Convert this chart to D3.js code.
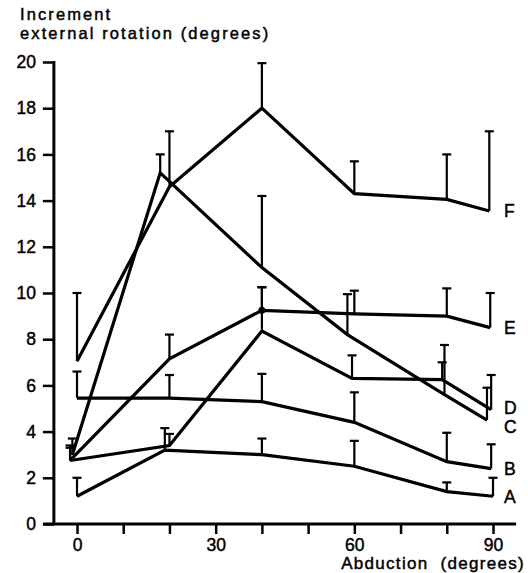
<!DOCTYPE html>
<html>
<head>
<meta charset="utf-8">
<script src="https://cdn.jsdelivr.net/npm/d3@7"></script>
<style>
  body { margin: 0; background: #fff; }
  svg { display: block; font-family: 'Liberation Sans', Arial, sans-serif; }
  svg text { stroke: #000; stroke-width: 0.45; fill: #000; }
  .line { fill: none; stroke: #000; stroke-width: 3.2; stroke-linejoin: miter; }
  .err { stroke: #000; stroke-width: 2.2; }
</style>
</head>
<body>
<svg id="chart" width="528" height="573"></svg>
<script>
// abduction angle (deg), mean increment, top of error bar
const angleA = [0, 19, 40, 60, 80, 90]
const meanA = [1.2, 3.2, 3.0, 2.5, 1.4, 1.2]
const upperA = [2.0, 4.15, 3.7, 3.6, 1.8, 2.0]

const angleB = [0, 20, 40, 60, 80, 89.6]
const meanB = [5.45, 5.45, 5.3, 4.4, 2.7, 2.4]
const upperB = [6.6, 6.45, 6.5, 5.7, 3.95, 3.45]

const angleC = [-1, 18, 40, 58.5, 79.5, 88.7]
const meanC = [3.0, 15.2, 11.1, 8.2, 5.6, 4.5]
const upperC = [3.7, 16.0, 14.2, 9.95, 7.75, 5.9]

const angleD = [-1.5, 20, 40, 59.5, 79, 89.6]
const meanD = [2.75, 3.4, 8.35, 6.3, 6.25, 4.95]
const upperD = [3.4, 3.9, 10.25, 7.3, 7.0, 6.45]

const angleE = [-1.5, 20, 40, 60, 80, 89.4]
const meanE = [2.75, 7.15, 9.25, 9.1, 9.0, 8.5]
const upperE = [3.3, 8.2, 10.25, 10.1, 10.2, 10.0]

const angleF = [0, 20, 40, 60, 80, 89.2]
const meanF = [7.05, 14.6, 18.0, 14.3, 14.05, 13.55]
const upperF = [10.0, 17.0, 19.95, 15.7, 16.0, 17.0]

const seriesNames = ['A', 'B', 'C', 'D', 'E', 'F']
const yTicks = [0, 2, 4, 6, 8, 10, 12, 14, 16, 18, 20]
const xTicks = [0, 10, 20, 30, 40, 50, 60, 70, 80, 90]
const xTickLabels = [0, 30, 60, 90]

const angles = [angleA, angleB, angleC, angleD, angleE, angleF]
const means = [meanA, meanB, meanC, meanD, meanE, meanF]
const uppers = [upperA, upperB, upperC, upperD, upperE, upperF]

let svg = d3.select('#chart')

let x = d3.scaleLinear().domain([0, 90]).range([77, 493])
let y = d3.scaleLinear().domain([0, 20]).range([524, 62])

// title
svg.append('text')
  .attr('x', 20).attr('y', 20)
  .attr('font-size', 16.5).attr('letter-spacing', 2.1)
  .text('Increment')
svg.append('text')
  .attr('x', 20).attr('y', 38.5)
  .attr('font-size', 16.5).attr('letter-spacing', 2.1)
  .text('external rotation (degrees)')

// y axis
let yAxis = d3.axisLeft(y).tickValues(yTicks).tickSize(11).tickSizeOuter(0).tickPadding(7)
let gY = svg.append('g')
  .attr('transform', 'translate(' + x(-5) + ',0)')
  .call(yAxis)
gY.select('.domain').remove()
gY.selectAll('line').attr('stroke', '#000').attr('stroke-width', 2.5)
gY.selectAll('text').attr('font-size', 17.5)
gY.append('line')
  .attr('x1', 0).attr('x2', 0)
  .attr('y1', y(20) - 1).attr('y2', y(0) + 1)
  .attr('stroke', '#000').attr('stroke-width', 3)

// x axis
let xAxis = d3.axisBottom(x).tickValues(xTicks).tickSize(10).tickSizeOuter(0).tickPadding(5)
  .tickFormat(d => xTickLabels.includes(d) ? d : '')
let gX = svg.append('g')
  .attr('transform', 'translate(0,' + y(0) + ')')
  .call(xAxis)
gX.select('.domain').remove()
gX.selectAll('line').attr('stroke', '#000').attr('stroke-width', 2.5)
gX.selectAll('text').attr('font-size', 17.5)
gX.append('line')
  .attr('x1', x(-7.3)).attr('x2', x(95))
  .attr('y1', 0).attr('y2', 0)
  .attr('stroke', '#000').attr('stroke-width', 3)

svg.append('text')
  .attr('x', 525).attr('y', 569)
  .attr('text-anchor', 'end')
  .attr('font-size', 17).attr('letter-spacing', 1.3)
  .style('white-space', 'pre')
  .text('Abduction  (degrees)')

let line = d3.line()
  .x(d => x(d.a))
  .y(d => y(d.m))

// label nudges so D and C do not collide
const labelShift = { C: 7, D: -2 }

seriesNames.forEach(function (name, i) {
  let pts = angles[i].map((a, j) => ({ a: a, m: means[i][j], u: uppers[i][j] }))
  let g = svg.append('g')

  // error bars
  g.selectAll('.bar')
    .data(pts)
    .enter()
    .append('line')
    .attr('class', 'err')
    .attr('x1', d => x(d.a)).attr('x2', d => x(d.a))
    .attr('y1', d => y(d.m)).attr('y2', d => y(d.u))
  g.selectAll('.cap')
    .data(pts)
    .enter()
    .append('line')
    .attr('class', 'err')
    .attr('x1', d => x(d.a) - 4.5).attr('x2', d => x(d.a) + 4.5)
    .attr('y1', d => y(d.u)).attr('y2', d => y(d.u))

  g.append('path')
    .datum(pts)
    .attr('class', 'line')
    .attr('d', line)

  let last = pts[pts.length - 1]
  svg.append('text')
    .attr('x', x(90) + 11)
    .attr('y', y(last.m) + (labelShift[name] || 0))
    .attr('dy', '0.36em')
    .attr('font-size', 17.5)
    .text(name)
})

// filled point on E at 40 degrees
svg.append('circle')
  .attr('cx', x(angleE[2])).attr('cy', y(meanE[2]))
  .attr('r', 3.5)
</script>
</body>
</html>
